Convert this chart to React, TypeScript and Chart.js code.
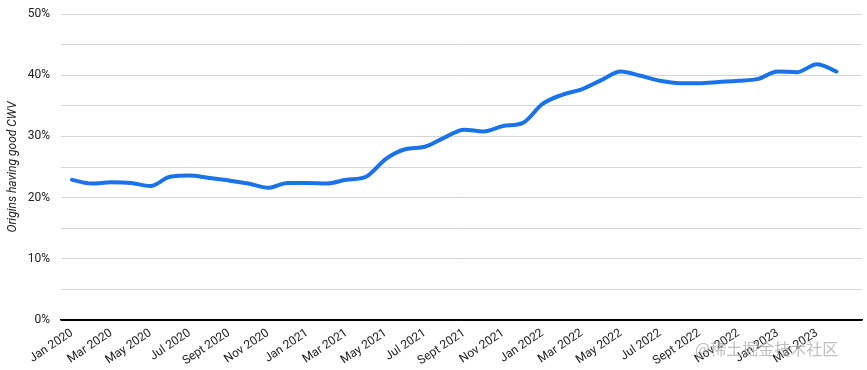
import React, { useEffect, useRef } from "react";
import { Chart, registerables } from "chart.js";

Chart.register(...registerables);

const months: string[] = [
  "Jan 2020", "Feb 2020", "Mar 2020", "Apr 2020", "May 2020", "Jun 2020", "Jul 2020", "Aug 2020", "Sept 2020", "Oct 2020", "Nov 2020", "Dec 2020",
  "Jan 2021", "Feb 2021", "Mar 2021", "Apr 2021", "May 2021", "Jun 2021", "Jul 2021", "Aug 2021", "Sept 2021", "Oct 2021", "Nov 2021", "Dec 2021",
  "Jan 2022", "Feb 2022", "Mar 2022", "Apr 2022", "May 2022", "Jun 2022", "Jul 2022", "Aug 2022", "Sept 2022", "Oct 2022", "Nov 2022", "Dec 2022",
  "Jan 2023", "Feb 2023", "Mar 2023", "Apr 2023",
];

const goodCWV: number[] = [
  22.9, 22.3, 22.5, 22.4, 21.9, 23.4, 23.6, 23.2, 22.8, 22.3, 21.6, 22.4,
  22.4, 22.3, 22.9, 23.4, 26.3, 27.9, 28.3, 29.8, 31.1, 30.8, 31.7, 32.2,
  35.3, 36.8, 37.7, 39.2, 40.6, 39.9, 39.1, 38.7, 38.7, 38.9, 39.1, 39.4,
  40.6, 40.5, 41.8, 40.6,
];

const tickLabels: string[] = months.filter((_, i) => i % 2 === 0);
const yTicks: number[] = [0, 5, 10, 15, 20, 25, 30, 35, 40, 45, 50];

export default function App() {
  const ref = useRef<HTMLCanvasElement | null>(null);

  useEffect(() => {
    document.body.style.margin = "0";
    if (!ref.current) return;
    const font = { family: "Roboto, 'Noto Sans', sans-serif", size: 12 };
    const chart = new Chart(ref.current, {
      type: "line",
      data: {
        datasets: [
          {
            label: "Origins having good CWV",
            data: goodCWV.map((v, i) => ({ x: i, y: v })),
            borderColor: "#1a73e8",
            borderWidth: 4,
            pointRadius: 0,
            tension: 0.4,
            cubicInterpolationMode: "monotone",
            borderCapStyle: "round",
            borderJoinStyle: "round",
            fill: false,
          },
        ],
      },
      options: {
        animation: false,
        responsive: true,
        maintainAspectRatio: false,
        layout: { padding: { left: 0, right: 5, top: 14, bottom: 0 } },
        plugins: { legend: { display: false }, tooltip: { enabled: false } },
        scales: {
          x: {
            type: "linear",
            min: -0.56,
            max: 40.3,
            afterBuildTicks: (axis: any) => {
              axis.ticks = tickLabels.map((_, i) => ({ value: i * 2 }));
            },
            afterFit: (scale: any) => {
              scale.height = 50;
              scale.paddingLeft = 0;
              scale.paddingRight = 0;
            },
            ticks: {
              autoSkip: false,
              maxRotation: 34,
              minRotation: 34,
              padding: 6,
              color: "#222",
              font,
              callback: (v: any) => {
                const idx = Math.round(Number(v));
                return idx % 2 === 0 ? months[idx] : "";
              },
            },
            grid: { display: false, drawTicks: false },
            border: { display: true, color: "#000", width: 1.5 },
          },
          y: {
            min: 0,
            max: 50,
            afterBuildTicks: (axis: any) => {
              axis.ticks = yTicks.map((v) => ({ value: v }));
            },
            afterFit: (scale: any) => {
              scale.width = 61;
              scale.paddingTop = 0;
              scale.paddingBottom = 0;
            },
            ticks: {
              padding: 11,
              color: "#222",
              font,
              callback: (v: any) => (Number(v) % 10 === 0 ? `${v}%` : ""),
            },
            grid: {
              drawTicks: false,
              color: (ctx: any) => (ctx.tick && ctx.tick.value === 0 ? "#000" : "#d6d6d6"),
              lineWidth: 1,
            },
            border: { display: false },
            title: {
              display: true,
              text: "Origins having good CWV",
              color: "#222",
              font: { ...font, style: "italic" },
              padding: { top: 6, bottom: 0 },
            },
          },
        },
      },
    });
    return () => chart.destroy();
  }, []);

  return (
    <div style={{ position: "relative", width: 867, height: 370, background: "#fff" }}>
      <canvas ref={ref} />
      <div
        style={{
          position: "absolute",
          left: 695,
          top: 336,
          fontFamily: "'Noto Sans CJK SC', sans-serif",
          fontSize: 16,
          color: "rgba(170,170,170,0.75)",
          whiteSpace: "nowrap",
          pointerEvents: "none",
        }}
      >
        @稀土掘金技术社区
      </div>
    </div>
  );
}
